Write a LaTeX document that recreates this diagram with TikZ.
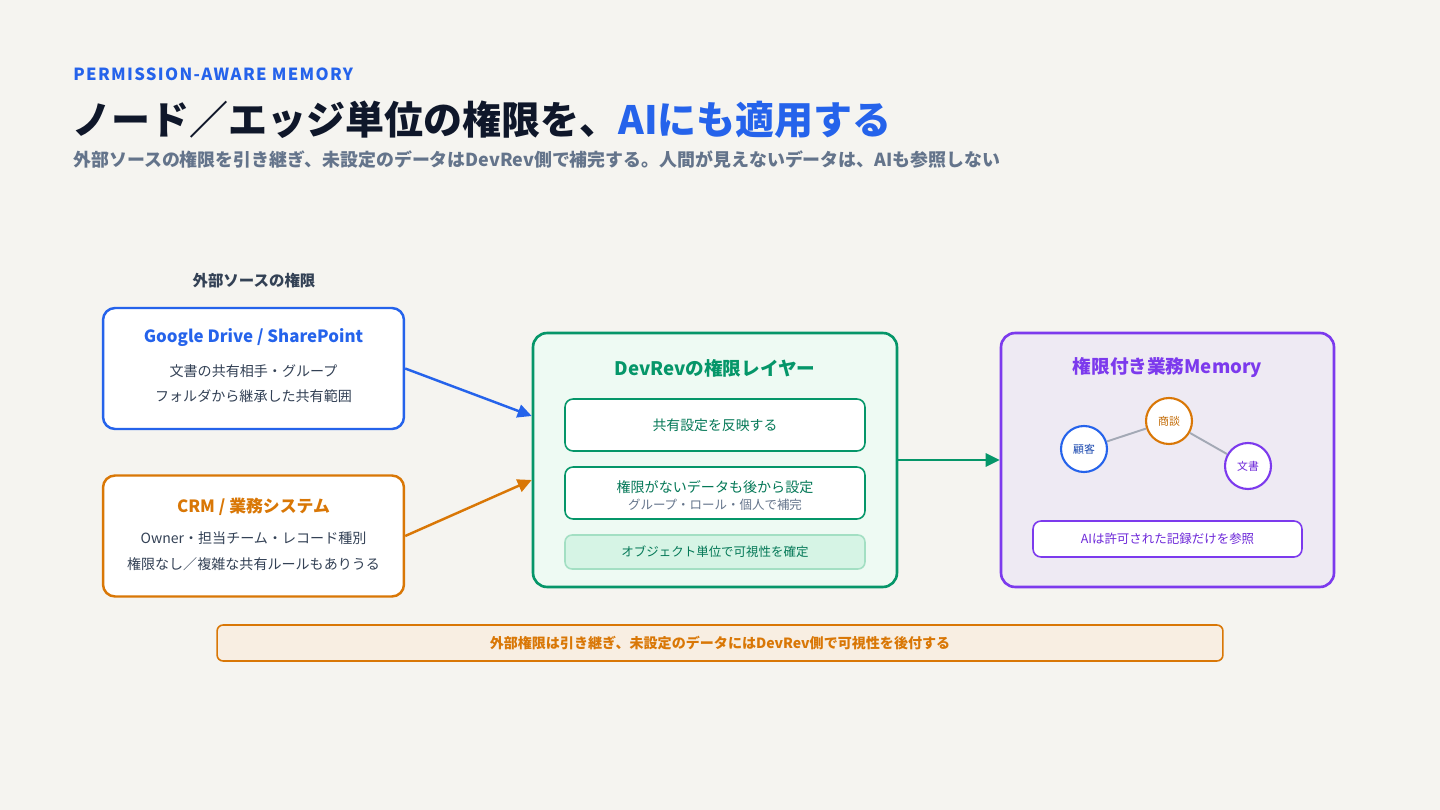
\documentclass[tikz,border=0pt]{standalone}
\usepackage{fontspec}
\setmainfont{Noto Sans CJK JP}
\usetikzlibrary{arrows.meta}

\definecolor{bgcol}{HTML}{F5F4F0}
\definecolor{accblue}{HTML}{2563EB}
\definecolor{accorange}{HTML}{D97706}
\definecolor{accgreen}{HTML}{059669}
\definecolor{darkgreen}{HTML}{047857}
\definecolor{accpurple}{HTML}{7C3AED}
\definecolor{darkpurple}{HTML}{6D28D9}
\definecolor{ink}{HTML}{0F172A}
\definecolor{slate}{HTML}{334155}
\definecolor{mutedgray}{HTML}{64748B}
\definecolor{greenfill}{HTML}{EEFAF3}
\definecolor{greenchip}{HTML}{D6F4E5}
\definecolor{greenchipline}{HTML}{A3DFC3}
\definecolor{purplefill}{HTML}{EEEAF3}
\definecolor{orangefill}{HTML}{F8EEE2}
\definecolor{edgegray}{HTML}{A3A9B5}

\tikzset{
  srcbox/.style={draw=#1, fill=white, line width=1.4pt, rounded corners=0.24cm,
    minimum width=6.02cm, minimum height=2.42cm},
  layerbox/.style={draw=#1, line width=1.5pt, rounded corners=0.28cm,
    minimum height=5.08cm},
  innerbox/.style={draw=#1, fill=white, line width=0.9pt, rounded corners=0.16cm},
  boxtitle/.style={inner sep=0, font=\fontsize{9.6}{12}\selectfont\bfseries},
  layertitle/.style={inner sep=0, font=\fontsize{10.6}{13}\selectfont\bfseries},
  boxline/.style={inner sep=0, text=slate, font=\fontsize{8}{10}\selectfont},
  entity/.style={circle, draw=#1, fill=white, line width=1.2pt, minimum size=0.92cm,
    inner sep=0, font=\fontsize{6.2}{7}\selectfont},
  flow/.style={-{Triangle[length=8pt,width=7.5pt]}, line width=1.4pt, draw=#1},
}

\begin{document}
\begin{tikzpicture}[x=0.02cm,y=-0.02cm]
  \fill[bgcol] (0,0) rectangle (1440,810);

  % heading
  \node[anchor=west, inner sep=0, text=accblue] (kicker) at (73,74)
    {\fontsize{9.5}{11}\selectfont\bfseries\addfontfeature{LetterSpace=8}PERMISSION-AWARE MEMORY};
  \node[anchor=west, inner sep=0, text=ink] (title) at (72,120)
    {\fontsize{22.2}{26}\selectfont\bfseries ノード／エッジ単位の権限を、\textcolor{accblue}{AIにも適用する}};
  \node[anchor=west, inner sep=0, text=mutedgray] (subtitle) at (73,160)
    {\fontsize{10.2}{12}\selectfont\bfseries 外部ソースの権限を引き継ぎ、未設定のデータはDevRev側で補完する。人間が見えないデータは、AIも参照しない};

  % external sources
  \node[inner sep=0, text=slate, font=\fontsize{8.8}{10}\selectfont\bfseries] (src-label) at (254,281) {外部ソースの権限};

  \node[srcbox=accblue] (gd-src) at (253.5,368.5) {};
  \node[boxtitle, text=accblue] (gd-title) at (253.5,338) {Google Drive / SharePoint};
  \node[boxline] (gd-line1) at (253.5,371) {文書の共有相手・グループ};
  \node[boxline] (gd-line2) at (253.5,396) {フォルダから継承した共有範囲};

  \node[srcbox=accorange] (crm-src) at (253.5,536) {};
  \node[boxtitle, text=accorange] (crm-title) at (253.5,507) {CRM / 業務システム};
  \node[boxline] (crm-line1) at (253.5,538) {Owner・担当チーム・レコード種別};
  \node[boxline] (crm-line2) at (253.5,564) {権限なし／複雑な共有ルールもありうる};

  % DevRev layer
  \node[layerbox=accgreen, fill=greenfill, minimum width=7.28cm] (perm-layer) at (715,460) {};
  \node[layertitle, text=accgreen] (layer-title) at (715,368) {DevRevの権限レイヤー};
  \node[innerbox=accgreen, minimum width=6cm, minimum height=1.04cm] (reflect) at (715,425) {};
  \node[inner sep=0, text=darkgreen, font=\fontsize{7.9}{9}\selectfont] (reflect-text) at (715,425) {共有設定を反映する};
  \node[innerbox=accgreen, minimum width=6cm, minimum height=1.04cm] (backfill) at (715,493) {};
  \node[inner sep=0, text=darkgreen, font=\fontsize{8}{9}\selectfont] (backfill-text) at (715,487) {権限がないデータも後から設定};
  \node[inner sep=0, text=mutedgray, font=\fontsize{7.1}{8}\selectfont] (backfill-sub) at (715,505) {グループ・ロール・個人で補完};
  \node[draw=greenchipline, fill=greenchip, line width=0.9pt, rounded corners=0.14cm,
    minimum width=6cm, minimum height=0.68cm, text=darkgreen,
    font=\fontsize{7.1}{8}\selectfont] (object-vis) at (715,552) {オブジェクト単位で可視性を確定};

  % memory
  \node[layerbox=accpurple, fill=purplefill, minimum width=6.66cm] (memory) at (1167.5,460) {};
  \node[layertitle, text=accpurple] (memory-title) at (1167.5,368) {権限付き業務Memory};
  \node[entity=accblue, text=accblue!75!black] (cust) at (1084,449) {顧客};
  \node[entity=accorange, text=accorange!90!black] (deal) at (1169,421) {商談};
  \node[entity=accpurple, text=darkpurple] (doc) at (1248,466) {文書};
  \draw[edgegray, line width=1.1pt] (cust) -- (deal);
  \draw[edgegray, line width=1.1pt] (deal) -- (doc);
  \node[innerbox=accpurple, minimum width=5.38cm, minimum height=0.72cm, text=darkpurple,
    font=\fontsize{7.1}{8}\selectfont] (ai-scope) at (1167.5,539) {AIは許可された記録だけを参照};

  % connectors
  \draw[flow=accblue] (gd-src.east) -- ([yshift=0.88cm]perm-layer.west);
  \draw[flow=accorange] (crm-src.east) -- ([yshift=-0.4cm]perm-layer.west);
  \draw[flow=accgreen] (perm-layer) -- (memory);

  % summary
  \node[draw=accorange, fill=orangefill, line width=0.9pt, rounded corners=0.12cm,
    minimum width=20.12cm, minimum height=0.72cm, text=accorange,
    font=\fontsize{8}{9}\selectfont\bfseries] (summary) at (720,643)
    {外部権限は引き継ぎ、未設定のデータにはDevRev側で可視性を後付する};
\end{tikzpicture}
\end{document}
